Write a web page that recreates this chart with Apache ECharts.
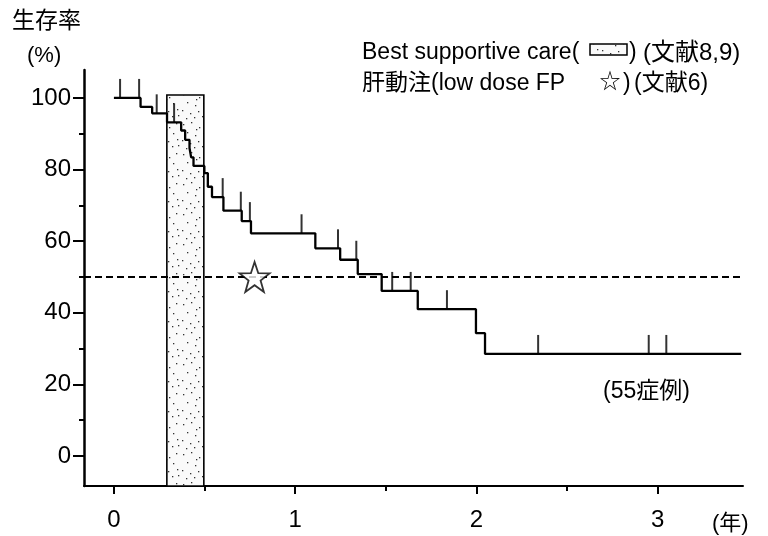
<!DOCTYPE html>
<html>
<head>
<meta charset="utf-8">
<script src="https://cdn.jsdelivr.net/npm/echarts@6/dist/echarts.min.js"></script>
<style>
html,body{margin:0;padding:0;background:#fff;}
#chart{width:768px;height:536px;}
</style>
</head>
<body>
<div id="chart"></div>
<script>
// ---- data ----
const xTickValues = [0, 1, 2, 3];
const xMinorTickValues = [0.5, 1.5, 2.5];
const yTickValues = [0, 20, 40, 60, 80, 100];
const yMinorTickValues = [10, 30, 50, 70, 90];

// Kaplan-Meier step curve (years, survival %)
const eventTimes = [0, 0.147, 0.211, 0.293, 0.371, 0.393, 0.417, 0.426, 0.439, 0.499, 0.518, 0.541, 0.604, 0.705, 0.756, 1.111, 1.248, 1.345, 1.477, 1.676, 1.997, 2.047, 3.46];
const survival   = [100, 97.5, 95.7, 93.2, 90.9, 88.3, 86.0, 83.4, 81.0, 79.0, 75.2, 72.3, 68.5, 65.6, 62.2, 58.0, 54.8, 50.8, 46.1, 41.0, 34.3, 28.5, 28.5];

// censored observations (years)
const censorTimes = [0.034, 0.139, 0.236, 0.332, 0.600, 0.700, 0.750, 1.035, 1.236, 1.337, 1.535, 1.637, 1.837, 2.340, 2.950, 3.047];

// Best supportive care band (years start, end, top %)
const bscBand = [0.292, 0.496, 100.8];
// low dose FP (years, %)
const fpStar = [0.776, 50];
// median reference dashed line
const dashX = [-0.165, 3.60];
const dashY = 50;

// axis ranges
const X_MIN = -0.165, X_MAX = 3.47;
const Y_MIN = -8.38, Y_MAX = 107.8;

// ---- helpers ----
const FONT = "'Liberation Sans', 'Noto Sans CJK JP', sans-serif";
function levelAt(t) {
  let v = survival[0];
  for (let i = 0; i < eventTimes.length; i++) { if (eventTimes[i] <= t) v = survival[i]; }
  return v;
}
// stipple pattern (style only)
const dots = [[3,4],[11,2],[19,7],[26,3],[7,12],[15,15],[23,13],[2,20],[10,23],[18,21],[27,19],[6,28],[14,27],[22,26],[28,25],[16,9]];
const pc = document.createElement('canvas');
pc.width = 30; pc.height = 30;
const pctx = pc.getContext('2d');
pctx.fillStyle = '#fafafa'; pctx.fillRect(0,0,30,30);
pctx.fillStyle = '#333';
dots.forEach(d => pctx.fillRect(d[0], d[1], 1.3, 1.3));
const stipple = {type: 'pattern', image: pc, repeat: 'repeat'};

const starPath = 'path://M12,0.5L14.7,8.28L22.94,8.45L16.37,13.42L18.76,21.3L12,16.6L5.24,21.3L7.63,13.42L1.06,8.45L9.3,8.28Z';

const chart = echarts.init(document.getElementById('chart'), null, {renderer: 'canvas'});
const axisBase = {
  type: 'value', splitLine: {show: false}
};
const option = {
  animation: false,
  backgroundColor: '#fff',
  grid: {left: 84, right: 25, top: 70, bottom: 50, containLabel: false},
  xAxis: [
    Object.assign({}, axisBase, {
      min: X_MIN, max: X_MAX, position: 'bottom',
      axisLine: {onZero: false, lineStyle: {color: '#000', width: 2}},
      axisTick: {customValues: xTickValues, length: 8, lineStyle: {color: '#000', width: 2}},
      axisLabel: {customValues: xTickValues, color: '#000', fontSize: 24, fontFamily: FONT, margin: 22}
    }),
    Object.assign({}, axisBase, {
      min: X_MIN, max: X_MAX, position: 'bottom',
      axisLine: {show: false, onZero: false},
      axisTick: {customValues: xMinorTickValues, length: 5, lineStyle: {color: '#000', width: 2}},
      axisLabel: {show: false}
    })
  ],
  yAxis: [
    Object.assign({}, axisBase, {
      min: Y_MIN, max: Y_MAX, position: 'left',
      axisLine: {onZero: false, lineStyle: {color: '#000', width: 2.5}},
      axisTick: {customValues: yTickValues, length: 11, lineStyle: {color: '#000', width: 2}},
      axisLabel: {customValues: yTickValues, color: '#000', fontSize: 24, fontFamily: FONT, margin: 13}
    }),
    Object.assign({}, axisBase, {
      min: Y_MIN, max: Y_MAX, position: 'left',
      axisLine: {show: false, onZero: false},
      axisTick: {customValues: yMinorTickValues, length: 5, lineStyle: {color: '#000', width: 2}},
      axisLabel: {show: false}
    })
  ],
  series: [
    {
      type: 'custom', name: 'BSC', z: 1, clip: false,
      encode: {x: [0, 1], y: 2},
      data: [bscBand],
      renderItem: function (params, api) {
        const p0 = api.coord([api.value(0), api.value(2)]);
        const p1 = api.coord([api.value(1), Y_MIN]);
        return {
          type: 'rect',
          shape: {x: p0[0], y: p0[1], width: p1[0] - p0[0], height: p1[1] - p0[1]},
          style: {fill: stipple, stroke: '#000', lineWidth: 1.6}
        };
      }
    },
    {
      type: 'line', name: 'median', z: 2, clip: false, symbol: 'none',
      data: dashX.map(x => [x, dashY]),
      lineStyle: {color: '#000', width: 2, type: [7, 4]}
    },
    {
      type: 'line', name: 'KM', z: 3, step: 'end', symbol: 'none',
      data: eventTimes.map((t, i) => [t, survival[i]]),
      lineStyle: {color: '#000', width: 2.3}
    },
    {
      type: 'scatter', name: 'censor', z: 4,
      symbol: 'rect', symbolSize: [2, 19], symbolOffset: [0, '-50%'],
      data: censorTimes.map(t => [t, levelAt(t)]),
      itemStyle: {color: '#000'}
    },
    {
      type: 'scatter', name: 'FP', z: 5,
      symbol: starPath, symbolSize: 30,
      data: [fpStar],
      itemStyle: {color: '#fff', borderColor: '#000', borderWidth: 1.8}
    }
  ],
  graphic: [
    {type: 'text', x: 12, y: 22, style: {text: '生存率', font: '23px ' + FONT, fill: '#000', textVerticalAlign: 'middle'}},
    {type: 'text', x: 27, y: 56, style: {text: '(%)', font: '22px ' + FONT, fill: '#000', textVerticalAlign: 'middle'}},
    {type: 'text', x: 362, y: 53, style: {text: 'Best supportive care(', font: '23px ' + FONT, fill: '#000', textVerticalAlign: 'middle'}},
    {type: 'rect', shape: {x: 590, y: 44, width: 37, height: 11}, style: {fill: stipple, stroke: '#000', lineWidth: 1.5}},
    {type: 'text', x: 629, y: 53, style: {text: ')', font: '23px ' + FONT, fill: '#000', textVerticalAlign: 'middle'}},
    {type: 'text', x: 643, y: 53, style: {text: '(文献8,9)', font: '24px ' + FONT, fill: '#000', textVerticalAlign: 'middle'}},
    {type: 'text', x: 362, y: 84, style: {text: '肝動注(low dose FP', font: '23px ' + FONT, fill: '#000', textVerticalAlign: 'middle'}},
    {type: 'text', x: 610, y: 82, style: {text: '☆', font: '21px ' + FONT, fill: '#000', textAlign: 'center', textVerticalAlign: 'middle'}},
    {type: 'text', x: 623, y: 84, style: {text: ')', font: '23px ' + FONT, fill: '#000', textVerticalAlign: 'middle'}},
    {type: 'text', x: 634, y: 84, style: {text: '(文献6)', font: '23px ' + FONT, fill: '#000', textVerticalAlign: 'middle'}},
    {type: 'text', x: 603, y: 392, style: {text: '(55症例)', font: '23px ' + FONT, fill: '#000', textVerticalAlign: 'middle'}},
    {type: 'text', x: 712, y: 524, style: {text: '(年)', font: '22px ' + FONT, fill: '#000', textVerticalAlign: 'middle'}}
  ]
};
chart.setOption(option);
</script>
</body>
</html>
